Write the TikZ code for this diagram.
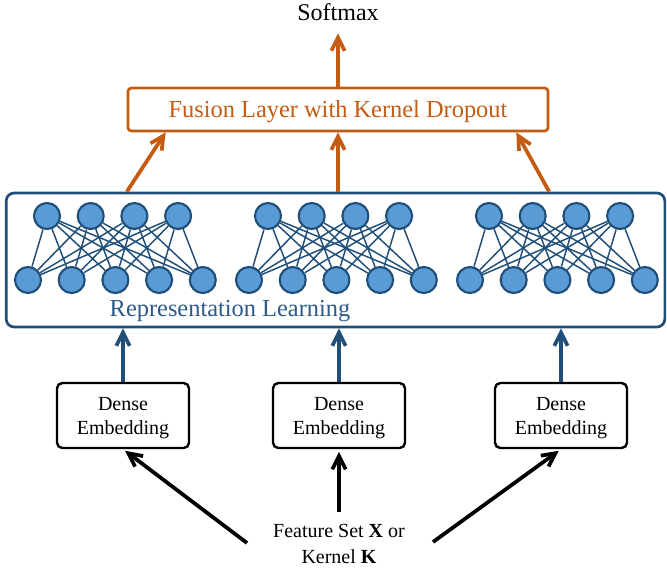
\documentclass[tikz,border=0pt]{standalone}
\usepackage{fontspec}
\setmainfont{Liberation Serif}
\usetikzlibrary{arrows.meta}

\definecolor{fuseorange}{HTML}{C55A11}
\definecolor{netblue}{HTML}{1F4E79}
\definecolor{cellfill}{HTML}{5B9BD5}
\definecolor{labelblue}{HTML}{2E5A88}

\tikzset{
  cell/.style={circle,draw=netblue,fill=cellfill,line width=1.6pt,inner sep=0pt,minimum size=19.5pt},
  link/.style={draw=netblue,line width=1.1pt},
  embbox/.style={draw,rounded corners=4pt,line width=1.8pt,align=center,minimum width=99pt,minimum height=48.75pt,
    text depth=0pt,font=\fontsize{15}{18}\selectfont},
  barb/.style={-{Straight Barb[length=10pt,width=10pt]},line width=2.8pt},
}

\begin{document}
\begin{tikzpicture}[x=0.75pt,y=0.75pt,yscale=-1,xscale=1]
\useasboundingbox (0,0) rectangle (667,572);

%Shape: Representation box
\node [draw=netblue,line width=2pt,rounded corners=6pt,minimum width=494pt,minimum height=100.5pt] (rep) at (335.5,260) {};
% Text Node
\node [text=labelblue,font=\fontsize{18.3}{22}\selectfont] (replabel) at (230,311) {Representation Learning};

%Shape: three small networks (4 over 5 cells)
\foreach \k/\dx in {1/0,2/221,3/442} {
  \foreach \i in {1,...,4}
    \node [cell] (t\k\i) at ({47+\dx+43.7*(\i-1)},216) {};
  \foreach \j in {1,...,5}
    \node [cell] (b\k\j) at ({28+\dx+43.7*(\j-1)},280) {};
  \foreach \i in {1,...,4}
    \foreach \j in {1,...,5}
      \draw [link] (t\k\i) -- (b\k\j);
}

%Shape: Fusion box
\node [draw=fuseorange,text=fuseorange,line width=2pt,rounded corners=2.5pt,minimum width=315pt,minimum height=32.25pt,
  text depth=0pt,font=\fontsize{18.3}{22}\selectfont] (fuse) at (338,109.5) {Fusion Layer with Kernel Dropout};
% Text Node
\node [font=\fontsize{18}{22}\selectfont] (soft) at (338,12) {Softmax};

%Straight Lines: into and out of the fusion layer
\draw [barb,fuseorange] ([xshift=91.5pt]rep.north west) -- ([xshift=29.25pt]fuse.south west);
\draw [barb,fuseorange] (fuse.south |- rep.north) -- (fuse.south);
\draw [barb,fuseorange] ([xshift=-87.75pt]rep.north east) -- ([xshift=-24.75pt]fuse.south east);
\draw [barb,fuseorange,shorten >=6pt] (fuse.north) -- (soft.south);

%Shape: Dense embedding boxes
\node [embbox] (emb1) at (123,415.5) {Dense\\Embedding};
\node [embbox] (emb2) at (339,415.5) {Dense\\Embedding};
\node [embbox] (emb3) at (561,415.5) {Dense\\Embedding};

\foreach \k in {1,2,3}
  \draw [barb,netblue] (emb\k.north) -- (emb\k.north |- rep.south);

% Text Node
\node [align=center,font=\fontsize{15}{19.5}\selectfont] (feat) at (339,544) {Feature Set \textbf{X} or\\Kernel \textbf{K}};
\coordinate (featl) at (247,543);
\coordinate (featr) at (433,542);

%Straight Lines: inputs
\draw [barb,shorten >=2pt] (featl) -- (emb1.south);
\draw [barb,shorten <=6pt,shorten >=2pt] (feat.north) -- (emb2.south);
\draw [barb,shorten >=2pt] (featr) -- (emb3.south);
\end{tikzpicture}
\end{document}
